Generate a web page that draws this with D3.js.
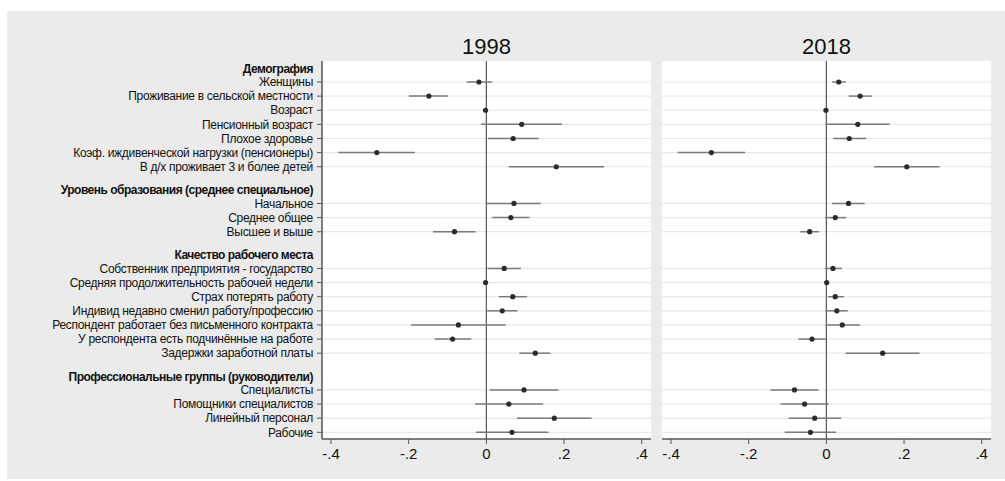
<!DOCTYPE html>
<html><head><meta charset="utf-8">
<script src="https://cdn.jsdelivr.net/npm/d3@7"></script>
<style>
html,body{margin:0;padding:0;background:#fff;}
svg{display:block;font-family:"Liberation Sans",Arial,Helvetica,sans-serif;}
</style></head>
<body>
<svg id="chart" width="1005" height="481"></svg>
<script>
// ---- data ----
const groups = ["Демография","Уровень образования (среднее специальное)","Качество рабочего места","Профессиональные группы (руководители)"];
const groupOf = [0,0,0,0,0,0,0, 1,1,1, 2,2,2,2,2,2,2, 3,3,3,3];
const labels = [
  "Женщины","Проживание в сельской местности","Возраст","Пенсионный возраст","Плохое здоровье",
  "Коэф. иждивенческой нагрузки (пенсионеры)","В д/х проживает 3 и более детей",
  "Начальное","Среднее общее","Высшее и выше",
  "Собственник предприятия - государство","Средняя продолжительность рабочей недели","Страх потерять работу",
  "Индивид недавно сменил работу/профессию","Респондент работает без письменного контракта",
  "У респондента есть подчинённые на работе","Задержки заработной платы",
  "Специалисты","Помощники специалистов","Линейный персонал","Рабочие"
];
const est1998 = [-0.019,-0.148,-0.002,0.091,0.069,-0.282,0.180, 0.071,0.063,-0.082, 0.046,-0.002,0.068,0.041,-0.072,-0.087,0.126, 0.097,0.058,0.175,0.066];
const lo1998  = [-0.051,-0.199,-0.004,-0.014,0.004,-0.381,0.058, 0.002,0.015,-0.137, 0.003,-0.003,0.032,0.002,-0.194,-0.133,0.085, 0.009,-0.029,0.079,-0.027];
const hi1998  = [0.015,-0.099,0.000,0.195,0.135,-0.184,0.303, 0.140,0.111,-0.028, 0.089,-0.001,0.105,0.080,0.050,-0.039,0.165, 0.186,0.146,0.271,0.160];
const est2018 = [0.032,0.087,-0.001,0.081,0.059,-0.296,0.207, 0.057,0.023,-0.043, 0.017,0.001,0.023,0.027,0.041,-0.037,0.145, -0.082,-0.056,-0.030,-0.041];
const lo2018  = [0.015,0.058,-0.002,-0.002,0.018,-0.383,0.123, 0.015,-0.003,-0.067, -0.004,0.000,0.004,-0.002,-0.002,-0.072,0.050, -0.144,-0.118,-0.097,-0.107];
const hi2018  = [0.050,0.117,0.000,0.163,0.103,-0.209,0.292, 0.099,0.051,-0.019, 0.040,0.002,0.045,0.055,0.086,-0.002,0.240, -0.020,0.006,0.038,0.025];
const panelTitles = ["1998","2018"];
const xTicks = [-0.4,-0.2,0,0.2,0.4];
const xTickLabels = ["-.4","-.2","0",".2",".4"];

// ---- layout ----
const svg = d3.select("#chart");
const W = 1005, H = 481;
svg.append("rect").attr("x",7).attr("y",11).attr("width",W-7).attr("height",468).attr("fill","#ebebeb");

// row positions in "step" units
const GAP = 2.6, HEAD = 0.94;
const itemPos = [], headPos = [];
let cur = 0;
labels.forEach((l,i)=>{
  if(i>0){ cur += (groupOf[i]!==groupOf[i-1]) ? GAP : 1; }
  if(i===0 || groupOf[i]!==groupOf[i-1]) headPos.push(cur-HEAD);
  itemPos.push(cur);
});
const plotTop = 61, plotBottom = 439;
const y = d3.scaleLinear().domain([-1.486, itemPos[itemPos.length-1]+0.474]).range([plotTop,plotBottom]);

const panels = [
  {title:panelTitles[0], est:est1998, lo:lo1998, hi:hi1998, x0:322, x1:651, yaxis:true},
  {title:panelTitles[1], est:est2018, lo:lo2018, hi:hi2018, x0:662, x1:991, yaxis:false}
];

panels.forEach(p=>{
  const g = svg.append("g");
  const x = d3.scaleLinear().domain([-0.4,0.4]).range([p.x0+9, p.x1-9.3]);
  g.append("rect").attr("x",p.x0).attr("y",plotTop).attr("width",p.x1-p.x0).attr("height",plotBottom-plotTop).attr("fill","#fff");
  g.selectAll("line.grid").data(itemPos).join("line").attr("class","grid")
    .attr("x1",p.x0).attr("x2",p.x1).attr("y1",d=>y(d)).attr("y2",d=>y(d))
    .attr("stroke","#e8e8e8").attr("stroke-width",1.2);
  g.append("line").attr("x1",x(0)).attr("x2",x(0)).attr("y1",plotTop).attr("y2",plotBottom)
    .attr("stroke","#555").attr("stroke-width",1.2);
  g.selectAll("line.ci").data(labels).join("line").attr("class","ci")
    .attr("x1",(d,i)=>x(p.lo[i])).attr("x2",(d,i)=>x(p.hi[i]))
    .attr("y1",(d,i)=>y(itemPos[i])).attr("y2",(d,i)=>y(itemPos[i]))
    .attr("stroke","#7a7a7a").attr("stroke-width",1.5);
  g.selectAll("circle.pt").data(labels).join("circle").attr("class","pt")
    .attr("cx",(d,i)=>x(p.est[i])).attr("cy",(d,i)=>y(itemPos[i])).attr("r",2.6)
    .attr("fill","#2b2b2b");
  const ax = g.append("g").attr("transform",`translate(0,${plotBottom})`);
  ax.append("line").attr("x1",p.x0).attr("x2",p.x1).attr("y1",0).attr("y2",0).attr("stroke","#555").attr("stroke-width",1.5);
  ax.selectAll("line.tk").data(xTicks).join("line").attr("class","tk")
    .attr("x1",d=>x(d)).attr("x2",d=>x(d)).attr("y1",0).attr("y2",5).attr("stroke","#555").attr("stroke-width",1);
  ax.selectAll("text").data(xTicks).join("text")
    .attr("x",d=>x(d)).attr("y",19.5).attr("text-anchor","middle")
    .attr("font-size",15).attr("fill","#111").text((d,i)=>xTickLabels[i]);
  g.append("text").attr("x",(p.x0+p.x1)/2).attr("y",54).attr("text-anchor","middle")
    .attr("font-size",22).attr("fill","#111").text(p.title);
  if(p.yaxis){
    g.append("line").attr("x1",p.x0).attr("x2",p.x0).attr("y1",plotTop).attr("y2",plotBottom).attr("stroke","#555").attr("stroke-width",1.5);
    g.selectAll("line.ytk").data(itemPos).join("line").attr("class","ytk")
      .attr("x1",p.x0-5).attr("x2",p.x0).attr("y1",d=>y(d)).attr("y2",d=>y(d)).attr("stroke","#555").attr("stroke-width",1);
    g.selectAll("text.yl").data(labels).join("text").attr("class","yl")
      .attr("x",p.x0-9).attr("y",(d,i)=>y(itemPos[i])).attr("dy","0.35em").attr("text-anchor","end")
      .attr("font-size",12).attr("letter-spacing",-0.3).attr("fill","#111").text(d=>d);
    g.selectAll("text.hd").data(groups).join("text").attr("class","hd")
      .attr("x",p.x0-9).attr("y",(d,i)=>y(headPos[i])).attr("dy","0.35em").attr("text-anchor","end")
      .attr("font-size",12).attr("letter-spacing",-0.5).attr("font-weight","bold").attr("fill","#111").text(d=>d);
  }
});
</script>
</body></html>
